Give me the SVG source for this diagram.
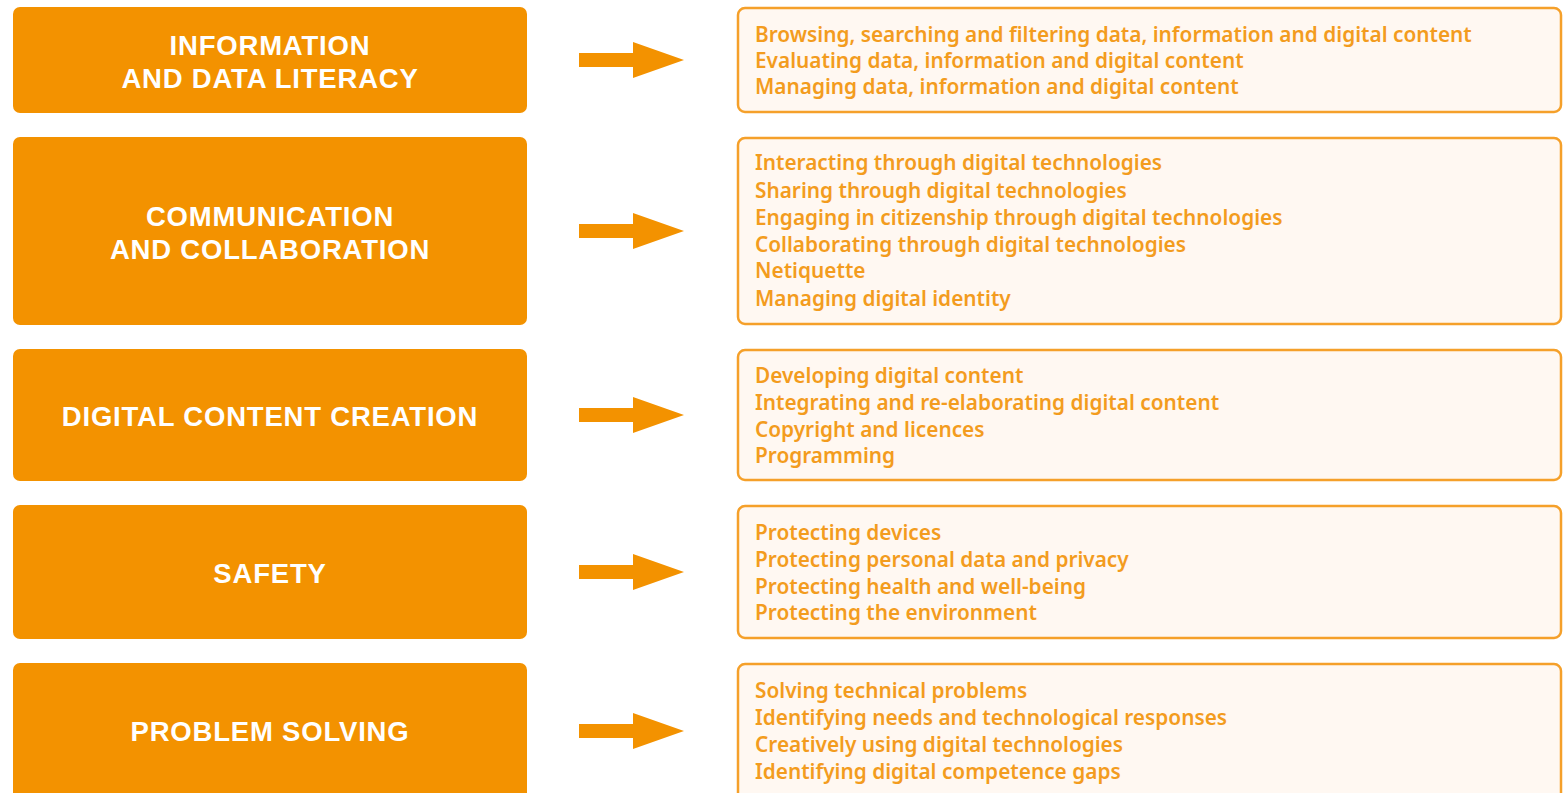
<svg xmlns="http://www.w3.org/2000/svg" width="1564" height="793" viewBox="0 0 1564 793">
<style>
.cat rect{fill:#F39200;}
.cat text{fill:#ffffff;font-family:"Liberation Sans",Arial,sans-serif;font-weight:bold;font-size:27.5px;text-anchor:middle;letter-spacing:0.8px;}
.det rect{fill:#FFF8F2;stroke:#F5A02A;stroke-width:2.5;}
.det text{fill:#F39C1E;font-family:"Noto Sans","Liberation Sans",sans-serif;font-size:20.8px;font-weight:600;}
.arr{fill:#F39200;}
</style>
<defs>
<path id="ar" d="M579,-7 H633 V-18 L684,0 L633,18 V7 H579 Z"/>
</defs>
<rect width="1564" height="793" fill="#ffffff"/>
<g id="cat1" class="cat"><rect x="13" y="7" width="514" height="106" rx="7"/><text x="270" y="55">INFORMATION</text><text x="270" y="88">AND DATA LITERACY</text></g>
<g id="cat2" class="cat"><rect x="13" y="137" width="514" height="188" rx="7"/><text x="270" y="226">COMMUNICATION</text><text x="270" y="259">AND COLLABORATION</text></g>
<g id="cat3" class="cat"><rect x="13" y="349" width="514" height="132" rx="7"/><text x="270" y="426">DIGITAL CONTENT CREATION</text></g>
<g id="cat4" class="cat"><rect x="13" y="505" width="514" height="134" rx="7"/><text x="270" y="583">SAFETY</text></g>
<g id="cat5" class="cat"><rect x="13" y="663" width="514" height="140" rx="7"/><text x="270" y="741">PROBLEM SOLVING</text></g>

<g id="connectors" class="arr">
<use href="#ar" y="60"/>
<use href="#ar" y="231"/>
<use href="#ar" y="415"/>
<use href="#ar" y="572"/>
<use href="#ar" y="731"/>
</g>

<g id="det1" class="det"><rect x="738" y="8" width="823" height="104" rx="7"/>
<text x="755" y="42">Browsing, searching and filtering data, information and digital content</text>
<text x="755" y="68">Evaluating data, information and digital content</text>
<text x="755" y="94">Managing data, information and digital content</text></g>
<g id="det2" class="det"><rect x="738" y="138" width="823" height="186" rx="7"/>
<text x="755" y="170">Interacting through digital technologies</text>
<text x="755" y="198">Sharing through digital technologies</text>
<text x="755" y="225">Engaging in citizenship through digital technologies</text>
<text x="755" y="252">Collaborating through digital technologies</text>
<text x="755" y="278">Netiquette</text>
<text x="755" y="306">Managing digital identity</text></g>
<g id="det3" class="det"><rect x="738" y="350" width="823" height="130" rx="7"/>
<text x="755" y="383">Developing digital content</text>
<text x="755" y="410">Integrating and re-elaborating digital content</text>
<text x="755" y="437">Copyright and licences</text>
<text x="755" y="463">Programming</text></g>
<g id="det4" class="det"><rect x="738" y="506" width="823" height="132" rx="7"/>
<text x="755" y="540">Protecting devices</text>
<text x="755" y="567">Protecting personal data and privacy</text>
<text x="755" y="594">Protecting health and well-being</text>
<text x="755" y="620">Protecting the environment</text></g>
<g id="det5" class="det"><rect x="738" y="664" width="823" height="140" rx="7"/>
<text x="755" y="698">Solving technical problems</text>
<text x="755" y="725">Identifying needs and technological responses</text>
<text x="755" y="752">Creatively using digital technologies</text>
<text x="755" y="779">Identifying digital competence gaps</text></g>
</svg>
